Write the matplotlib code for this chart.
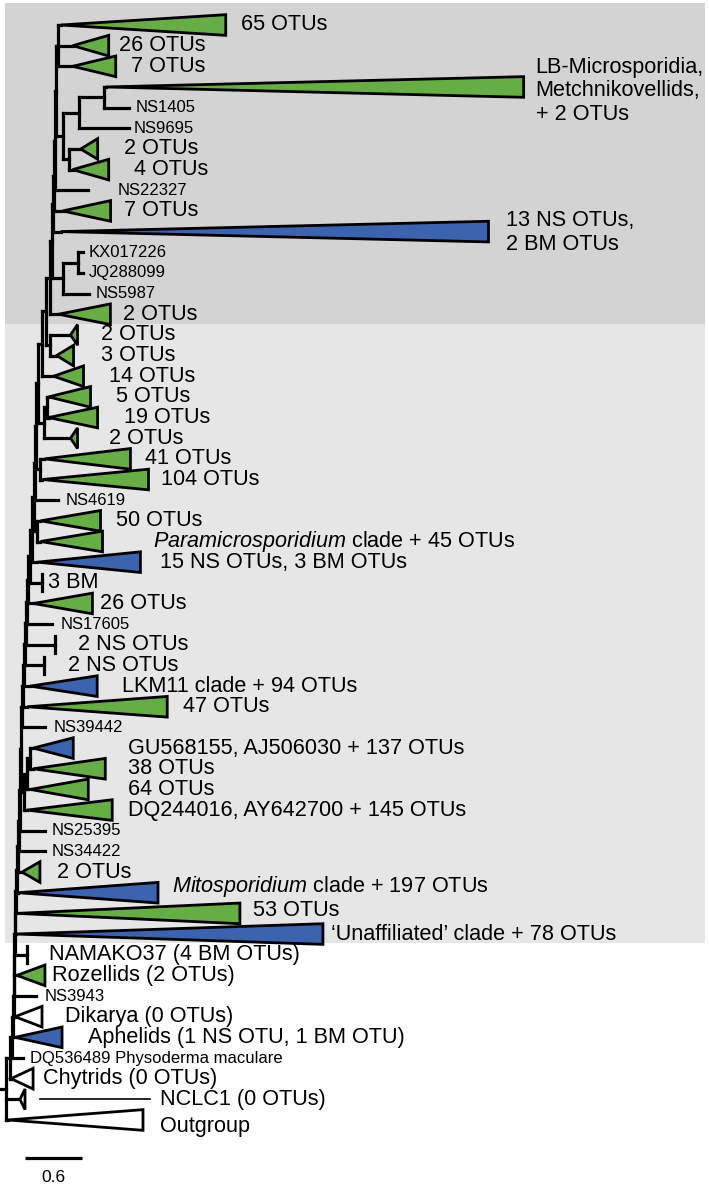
import matplotlib
matplotlib.use("Agg")
import matplotlib.pyplot as plt
from matplotlib.patches import Polygon, Rectangle
from matplotlib.collections import LineCollection

plt.rcParams['font.family'] = ['Liberation Sans', 'DejaVu Sans']
plt.rcParams['mathtext.fontset'] = 'custom'
plt.rcParams['mathtext.rm'] = 'Liberation Sans'
plt.rcParams['mathtext.it'] = 'Liberation Sans:italic'

# ---------------- DATA ----------------
# internal nodes: name, parent, branch length (substitutions/site)
node_names = ["R", "I0", "I1", "I2", "I3", "I4", "I5", "I6",
              "C0", "C1", "C2", "C3", "C4", "C5", "C6",
              "D0", "D1", "D2",
              "C7", "C8", "C9", "C10", "C11", "C12", "C13", "C14", "C15", "C16",
              "P0", "C17", "C18", "Q0", "C19", "S0", "S1", "C20", "C21", "C22",
              "T0", "T1", "H", "G", "T2", "T3", "T4", "T5", "E", "F", "D", "C", "T6"]
node_parents = [None, "R", "I0", "I1", "I2", "I3", "I4", "I5",
                "I6", "C0", "C1", "C2", "C3", "C4", "C5",
                "C6", "D0", "D1",
                "C6", "C7", "C8", "C9", "C10", "C11", "C12", "C13", "C14", "C15",
                "C16", "C16", "C17", "C18", "C18", "C19", "S0", "C19", "C20", "C21",
                "C21", "T0", "T1", "H", "T1", "T2", "T3", "T4", "T5", "E", "E", "D", "T5"]
node_lengths = [0.0, 0.042, 0.021, 0.011, 0.005, 0.005, 0.005, 0.005,
                0.005, 0.005, 0.011, 0.011, 0.011, 0.011, 0.011,
                0.032, 0.032, 0.032,
                0.011, 0.011, 0.011, 0.011, 0.011, 0.011, 0.011, 0.021, 0.021, 0.021,
                0.032, 0.011, 0.011, 0.042, 0.021, 0.053, 0.032, 0.042, 0.042, 0.032,
                0.042, 0.011, 0.116, 0.158, 0.011, 0.011, 0.011, 0.011, 0.074, 0.063,
                0.168, 0.263, 0.021]
root_stub = 0.063

# leaves, top to bottom
leaf_labels = [
    "65 OTUs", "26 OTUs", "7 OTUs",
    "LB-Microsporidia,\nMetchnikovellids,\n+ 2 OTUs",
    "NS1405", "NS9695", "2 OTUs", "4 OTUs", "NS22327", "7 OTUs",
    "13 NS OTUs,\n2 BM OTUs",
    "KX017226", "JQ288099", "NS5987", "2 OTUs",
    "2 OTUs", "3 OTUs", "14 OTUs", "5 OTUs", "19 OTUs", "2 OTUs",
    "41 OTUs", "104 OTUs", "NS4619", "50 OTUs",
    r"$\mathit{Paramicrosporidium}$ clade + 45 OTUs",
    "15 NS OTUs, 3 BM OTUs", "3 BM", "26 OTUs", "NS17605",
    "2 NS OTUs", "2 NS OTUs", "LKM11 clade + 94 OTUs", "47 OTUs", "NS39442",
    "GU568155, AJ506030 + 137 OTUs", "38 OTUs", "64 OTUs",
    "DQ244016, AY642700 + 145 OTUs", "NS25395", "NS34422", "2 OTUs",
    r"$\mathit{Mitosporidium}$ clade + 197 OTUs", "53 OTUs",
    "\u2018Unaffiliated\u2019 clade + 78 OTUs",
    "NAMAKO37 (4 BM OTUs)", "Rozellids (2 OTUs)", "NS3943", "Dikarya (0 OTUs)",
    "Aphelids (1 NS OTU, 1 BM OTU)", "DQ536489 Physoderma maculare",
    "Chytrids (0 OTUs)", "NCLC1 (0 OTUs)", "Outgroup"]
leaf_parents = [
    "T6", "T6", "T6", "C", "C", "D", "F", "F", "T4", "T3", "T2", "G", "G", "H", "T0",
    "C22", "C22", "C20", "S1", "S1", "S0", "Q0", "Q0", "C17", "P0", "P0", "C15",
    "C14", "C13", "C12", "C11", "C10", "C9", "C8", "C7", "D2", "D2", "D1", "D0",
    "C5", "C4", "C3", "C2", "C1", "C0", "I6", "I5", "I4", "I3", "I2", "I1", "I0",
    "R", "R"]
leaf_lengths = [
    0.032, 0.158, 0.158, 0.021, 0.263, 0.526, 0.126, 0.042, 0.347, 0.095, 0.084,
    0.053, 0.053, 0.274, 0.084,
    0.221, 0.074, 0.116, 0.021, 0.021, 0.284, 0.042, 0.021, 0.242, 0.032, 0.032,
    0.053, 0.126, 0.053, 0.263, 0.305, 0.200, 0.063, 0.042, 0.242, 0.032, 0.032,
    0.032, 0.032, 0.263, 0.274, 0.042, 0.011, 0.011, 0.005,
    0.126, 0.026, 0.232, 0.016, 0.021, 0.116, 0.011, 0.147, 0.021]
leaf_kinds = [
    "clade", "clade", "clade", "clade", "tip", "tip", "clade", "clade", "tip",
    "clade", "clade", "tip", "tip", "tip", "clade",
    "clade", "clade", "clade", "clade", "clade", "clade", "clade", "clade", "tip",
    "clade", "clade", "clade", "bar", "clade", "tip", "bar", "bar", "clade",
    "clade", "tip", "clade", "clade", "clade", "clade", "tip", "tip", "clade",
    "clade", "clade", "clade",
    "bar", "clade", "tip", "clade", "clade", "tip", "clade", "clade", "clade"]
# collapsed clade depth (triangle length)
leaf_spans = [
    1.737, 0.379, 0.453, 4.400, 0, 0, 0.179, 0.379, 0, 0.505, 4.505, 0, 0, 0, 0.547,
    0.074, 0.179, 0.316, 0.442, 0.516, 0.074, 0.905, 1.116, 0, 0.632, 0.653,
    1.084, 0, 0.621, 0, 0, 0, 0.705, 1.474, 0, 0.421, 0.758, 0.611, 0.895, 0, 0,
    0.189, 1.474, 2.347, 3.232,
    0, 0.295, 0, 0.284, 0.495, 0, 0.232, 0.053, 1.421]
# clade category: g = green, b = blue, w = white
leaf_groups = [
    "g", "g", "g", "g", "", "", "g", "g", "", "g", "b", "", "", "", "g",
    "g", "g", "g", "g", "g", "g", "g", "g", "", "g", "g", "b", "", "g", "",
    "", "", "b", "g", "", "b", "g", "g", "g", "", "", "g", "b", "g", "b",
    "", "g", "", "w", "b", "", "w", "w", "w"]
scale_length = 0.6

# ---------------- LAYOUT / STYLE ----------------
PX = 95.0            # pixels per substitution unit
ROW = 20.66          # pixels per leaf row
label_gaps_px = [15, 10, 15, 12, 7, 5, 26, 25, 30, 13, 17, 6, 6, 7, 13,
                 23, 27, 25, 25, 26, 31, 15, 12, 7, 15, 50, 20, 6, 8, 8,
                 23, 24, 25, 16, 8, 55, 23, 40, 16, 7, 7, 17, 14, 13, 8,
                 22, 7, 9, 23, 26, 7, 10, 135, 17]
label_dy_px = {3: 4, 10: 1, 42: -6, 43: -3, 53: 7}
colors = {"g": "#67ad45", "b": "#3c63ad", "w": "white"}
BIG, SMALL = 15.6, 12
LW = 2.3
TRI_H = 0.5
BAR_H = 0.42

assert len(node_names) == len(node_parents) == len(node_lengths)
n_leaf = len(leaf_labels)
for arr in (leaf_parents, leaf_lengths, leaf_kinds, leaf_spans, leaf_groups, label_gaps_px):
    assert len(arr) == n_leaf

# depths
node_parent = dict(zip(node_names, node_parents))
node_len = dict(zip(node_names, node_lengths))
depth = {}
def get_depth(n):
    if n in depth:
        return depth[n]
    p = node_parent[n]
    d = 0.0 if p is None else get_depth(p) + node_len[n]
    depth[n] = d
    return d
for n in node_names:
    get_depth(n)

leaf_y = list(range(n_leaf))
leaf_x = [depth[p] + l for p, l in zip(leaf_parents, leaf_lengths)]

# node y = midpoint of children's extent
children = {n: [] for n in node_names}
for i, p in enumerate(leaf_parents):
    children[p].append(("leaf", i))
for n, p in zip(node_names, node_parents):
    if p is not None:
        children[p].append(("node", n))
node_y = {}
def get_y(n):
    if n in node_y:
        return node_y[n]
    ys = [leaf_y[i] if k == "leaf" else get_y(i) for k, i in children[n]]
    node_y[n] = (min(ys) + max(ys)) / 2.0
    return node_y[n]
for n in node_names:
    get_y(n)

fig = plt.figure(figsize=(7.09, 11.87), dpi=100)
ax = fig.add_axes([0, 0, 1, 1])
x_left = -6 / PX
x_right = x_left + 709 / PX
y_top = -25 / ROW
y_bot = y_top + 1187 / ROW
ax.set_xlim(x_left, x_right)
ax.set_ylim(y_bot, y_top)
ax.axis("off")

# background bands
band_dark = (y_top + 3 / ROW, 14.45)
band_light = (14.45, 44.45)
bx0, bx1 = x_left + 5 / PX, x_left + 705 / PX
ax.add_patch(Rectangle((bx0, band_dark[0]), bx1 - bx0, band_dark[1] - band_dark[0],
                       fc="#d3d3d3", ec="none", zorder=0))
ax.add_patch(Rectangle((bx0, band_light[0]), bx1 - bx0, band_light[1] - band_light[0],
                       fc="#e6e6e6", ec="none", zorder=0))

segs = []
# root stub
segs.append([(-root_stub, node_y["R"]), (0, node_y["R"])])
for n, p in zip(node_names, node_parents):
    if p is not None:
        segs.append([(depth[p], node_y[n]), (depth[n], node_y[n])])
    ys = [leaf_y[i] if k == "leaf" else node_y[i] for k, i in children[n]]
    segs.append([(depth[n], min(ys)), (depth[n], max(ys))])
for i in range(n_leaf):
    p = leaf_parents[i]
    segs.append([(depth[p], leaf_y[i]), (leaf_x[i], leaf_y[i])])
    if leaf_kinds[i] == "bar":
        segs.append([(leaf_x[i], leaf_y[i] - BAR_H), (leaf_x[i], leaf_y[i] + BAR_H)])
ax.add_collection(LineCollection(segs, colors="black", linewidths=LW,
                                 capstyle="projecting", zorder=2))

for i in range(n_leaf):
    if leaf_kinds[i] == "clade":
        x0, y = leaf_x[i], leaf_y[i]
        x1 = x0 + leaf_spans[i]
        ax.add_patch(Polygon([(x0, y), (x1, y - TRI_H), (x1, y + TRI_H)], closed=True,
                             fc=colors[leaf_groups[i]], ec="black", lw=2.0,
                             joinstyle="miter", zorder=3))

for i in range(n_leaf):
    end = leaf_x[i] + leaf_spans[i]
    lx = end + label_gaps_px[i] / PX
    ly = leaf_y[i] + label_dy_px.get(i, 0) / ROW
    size = SMALL if leaf_kinds[i] == "tip" else BIG
    ax.text(lx, ly, leaf_labels[i], fontsize=size, va="center", ha="left",
            linespacing=1.15, zorder=4)
    if label_gaps_px[i] > 100:
        ax.plot([end + 15 / PX, lx - 10 / PX], [leaf_y[i], leaf_y[i]], color="black",
                lw=1.2, zorder=2)

# scale bar
sb_x = 0.2
sb_y = n_leaf - 1 + 1.85
ax.plot([sb_x, sb_x + scale_length], [sb_y, sb_y], color="black", lw=LW,
        solid_capstyle="butt")
ax.text(sb_x + scale_length / 2, sb_y + 0.95, f"{scale_length}", fontsize=12.5,
        ha="center", va="center")

fig.savefig("out.png", dpi=100)
